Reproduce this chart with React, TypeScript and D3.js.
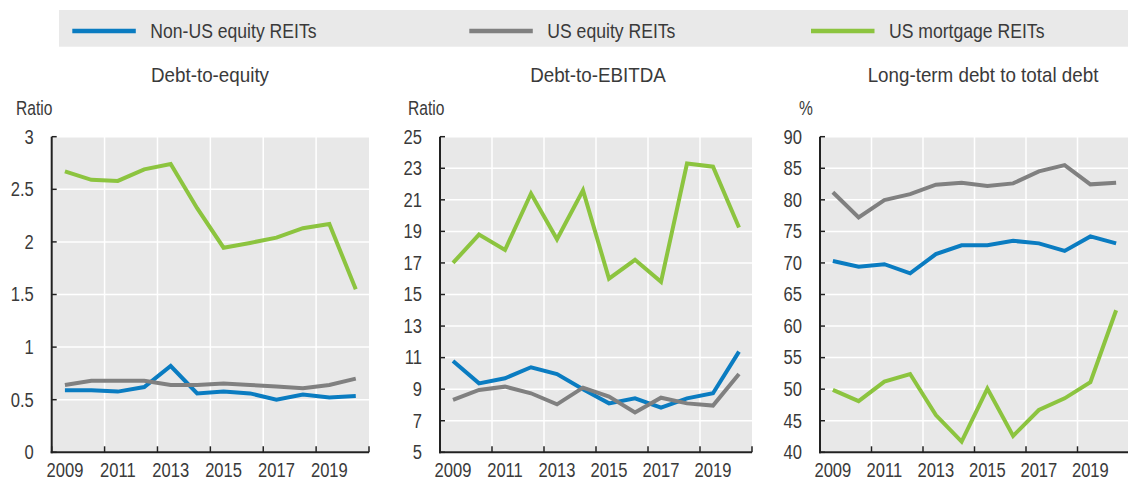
import React from "react";
import * as d3 from "d3";

const years = [2009, 2010, 2011, 2012, 2013, 2014, 2015, 2016, 2017, 2018, 2019, 2020];
const xTickLabels = [2009, 2011, 2013, 2015, 2017, 2019];

const seriesNames = ["Non-US equity REITs", "US equity REITs", "US mortgage REITs"];
const seriesColors = ["#0a7cc1", "#808080", "#8cc43f"];

// Debt-to-equity
const deNonUS = [0.59, 0.59, 0.577, 0.62, 0.82, 0.56, 0.577, 0.56, 0.5, 0.55, 0.52, 0.535];
const deUSEq = [0.64, 0.68, 0.68, 0.68, 0.64, 0.64, 0.655, 0.64, 0.625, 0.61, 0.64, 0.7];
const deUSMort = [2.67, 2.59, 2.58, 2.69, 2.74, 2.32, 1.945, 1.99, 2.04, 2.13, 2.17, 1.55];

// Debt-to-EBITDA
const ebNonUS = [10.79, 9.37, 9.69, 10.39, 9.96, 8.99, 8.1, 8.42, 7.83, 8.42, 8.74, 11.38];
const ebUSEq = [8.32, 8.95, 9.16, 8.74, 8.04, 9.1, 8.53, 7.53, 8.46, 8.1, 7.96, 9.96];
const ebUSMort = [17.0, 18.8, 17.82, 21.4, 18.5, 21.6, 16.0, 17.2, 15.8, 23.3, 23.1, 19.25];

// Long-term debt to total debt
const ltNonUS = [70.3, 69.4, 69.8, 68.35, 71.4, 72.8, 72.8, 73.5, 73.1, 71.9, 74.2, 73.1];
const ltUSEq = [81.2, 77.2, 79.97, 80.9, 82.4, 82.7, 82.2, 82.6, 84.5, 85.5, 82.45, 82.7];
const ltUSMort = [49.9, 48.1, 51.2, 52.4, 45.9, 41.7, 50.1, 42.6, 46.7, 48.55, 51.1, 62.5];

const deTicks = [0, 0.5, 1, 1.5, 2, 2.5, 3];
const ebTicks = [5, 7, 9, 11, 13, 15, 17, 19, 21, 23, 25];
const ltTicks = [40, 45, 50, 55, 60, 65, 70, 75, 80, 85, 90];

const titles = ["Debt-to-equity", "Debt-to-EBITDA", "Long-term debt to total debt"];
const units = ["Ratio", "Ratio", "%"];

const FONT = "'Liberation Sans', Arial, sans-serif";
const TEXT = "#3a3a3a";
const PLOT_BG = "#e8e8e8";

const panels = [
  { title: titles[0], unit: units[0], ticks: deTicks, series: [deNonUS, deUSEq, deUSMort], left: 51.7, right: 369, unitX: 16, titleX: 210 },
  { title: titles[1], unit: units[1], ticks: ebTicks, series: [ebNonUS, ebUSEq, ebUSMort], left: 440, right: 752, unitX: 408, titleX: 598 },
  { title: titles[2], unit: units[2], ticks: ltTicks, series: [ltNonUS, ltUSEq, ltUSMort], left: 820, right: 1129, unitX: 799, titleX: 983 },
];

const TOP = 136.7;
const BOTTOM = 452.3;

function NText({
  x,
  y,
  sx,
  size,
  anchor = "start",
  dy,
  children,
}: {
  x: number;
  y: number;
  sx: number;
  size: number;
  anchor?: string;
  dy?: string;
  children: React.ReactNode;
}) {
  return (
    <text
      transform={`translate(${x},${y}) scale(${sx},1)`}
      dy={dy}
      textAnchor={anchor as any}
      fontSize={size}
      fill={TEXT}
      fontFamily={FONT}
    >
      {children}
    </text>
  );
}

function Panel({ p }: { p: (typeof panels)[number] }) {
  const x = d3.scaleBand<number>().domain(years).range([p.left, p.right]).padding(0);
  const bw = x.bandwidth();
  const y = d3.scaleLinear().domain([p.ticks[0], p.ticks[p.ticks.length - 1]]).range([BOTTOM, TOP]);
  const line = d3
    .line<number>()
    .x((_, i) => (x(years[i]) as number) + bw / 2)
    .y((v) => y(v));
  const boundaries = d3.range(0, years.length + 1, 2).map((i) => p.left + i * bw);
  return (
    <g>
      <NText x={p.titleX} y={81.5} sx={0.94} size={20} anchor="middle">
        {p.title}
      </NText>
      <NText x={p.unitX} y={115} sx={0.8} size={19.5}>
        {p.unit}
      </NText>
      <rect x={p.left} y={TOP} width={p.right - p.left} height={BOTTOM - TOP} fill={PLOT_BG} />
      {p.ticks.map((t) => (
        <line key={"h" + t} x1={p.left} x2={p.right} y1={y(t)} y2={y(t)} stroke="#fff" strokeWidth={1.5} />
      ))}
      {boundaries.slice(1, -1).map((bx, i) => (
        <line key={"v" + i} x1={bx} x2={bx} y1={TOP} y2={BOTTOM} stroke="#fff" strokeWidth={1.5} />
      ))}
      {p.series.map((s, i) => (
        <path key={"s" + i} d={line(s) as string} fill="none" stroke={seriesColors[i]} strokeWidth={4} />
      ))}
      <line x1={p.left} x2={p.left} y1={TOP} y2={BOTTOM + 1} stroke="#222" strokeWidth={2} />
      <line x1={p.left - 1} x2={p.right} y1={BOTTOM} y2={BOTTOM} stroke="#222" strokeWidth={2} />
      {p.ticks.map((t) => (
        <g key={"yt" + t}>
          <line x1={p.left} x2={p.left + 5} y1={y(t)} y2={y(t)} stroke="#222" strokeWidth={1.5} />
          <NText x={p.left - 18} y={y(t)} dy="0.35em" sx={0.85} size={19.5} anchor="end">
            {String(t)}
          </NText>
        </g>
      ))}
      {boundaries.map((bx, i) => (
        <line key={"xt" + i} x1={bx} x2={bx} y1={BOTTOM} y2={BOTTOM - 6} stroke="#222" strokeWidth={1.5} />
      ))}
      {xTickLabels.map((yr) => (
        <NText key={"xl" + yr} x={(x(yr) as number) + bw / 2} y={BOTTOM + 25} sx={0.85} size={19.5} anchor="middle">
          {String(yr)}
        </NText>
      ))}
    </g>
  );
}

const legendLineX = [72.3, 469.3, 811];

export default function App() {
  return (
    <svg width={1128} height={481} style={{ position: "absolute", left: 0, top: 0 }}>
      <rect x={0} y={0} width={1128} height={481} fill="#fff" />
      <rect x={59} y={10} width={1069} height={36.7} fill="#e9e9e9" />
      {seriesNames.map((n, i) => (
        <g key={n}>
          <line x1={legendLineX[i]} x2={legendLineX[i] + 63.5} y1={31} y2={31} stroke={seriesColors[i]} strokeWidth={4.3} />
          <NText x={legendLineX[i] + 78} y={38.3} sx={0.88} size={20}>
            {n}
          </NText>
        </g>
      ))}
      {panels.map((p, i) => (
        <Panel key={i} p={p} />
      ))}
    </svg>
  );
}
